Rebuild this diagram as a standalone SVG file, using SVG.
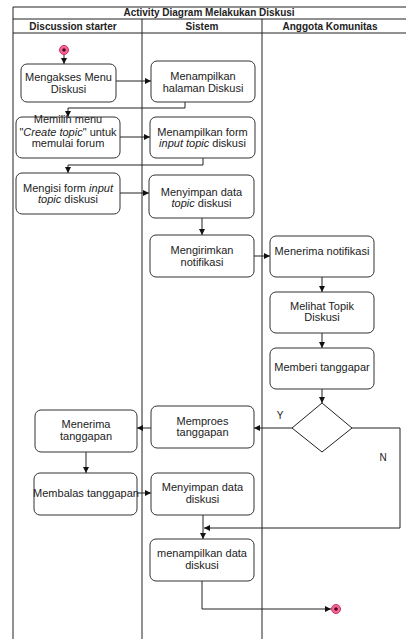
<svg xmlns="http://www.w3.org/2000/svg" width="406" height="639" viewBox="0 0 406 639">
<defs>
<marker id="ah" viewBox="0 0 10 10" refX="10" refY="5" markerWidth="6" markerHeight="6" orient="auto" markerUnits="userSpaceOnUse">
<path d="M0,0 L10,5 L0,10 z" fill="#111"/>
</marker>
</defs>
<style>
.frame{stroke:#222;stroke-width:1;fill:none}
.box{fill:#fff;stroke:#333;stroke-width:1}
.t{font-family:"Liberation Sans",Arial,sans-serif;font-size:11px;fill:#222;text-anchor:middle}
.h{font-family:"Liberation Sans",Arial,sans-serif;font-size:10px;font-weight:bold;fill:#222;text-anchor:middle}
.c{stroke:#222;stroke-width:1;fill:none;marker-end:url(#ah)}
</style>
<rect width="406" height="639" fill="#fff"/>
<g id="frame">
<path class="frame" d="M13,7 H406 M13,19 H406 M13,33 H406 M13,7 V639 M142,19 V639 M262,19 V639"/>
<text class="h" x="209" y="15.5">Activity Diagram Melakukan Diskusi</text>
<text class="h" x="73" y="29.5">Discussion starter</text>
<text class="h" x="202" y="29.5">Sistem</text>
<text class="h" x="330" y="29.5">Anggota Komunitas</text>
</g>
<g id="connectors">
<path class="c" d="M64,54 V64"/>
<path class="c" d="M116,81 H151"/>
<path class="c" d="M185,102 V108 H68 V117"/>
<path class="c" d="M120,137 H150"/>
<path class="c" d="M203,158 V165 H68 V173"/>
<path class="c" d="M120,193 H149"/>
<path class="c" d="M202,218 V235"/>
<path class="c" d="M254,256 H270"/>
<path class="c" d="M322,277 V292"/>
<path class="c" d="M322,333 V348"/>
<path class="c" d="M322,389 V403"/>
<path class="c" d="M292,428 H254"/>
<path class="c" d="M151,428 H137"/>
<path class="c" d="M352,428 H400 V528 H204"/>
<path class="c" d="M86,452 V473"/>
<path class="c" d="M137,493 H151"/>
<path class="c" d="M203,515 V539"/>
<path class="c" d="M202,581 V609 H331"/>
<text class="t" x="280" y="419" style="font-size:10px">Y</text>
<text class="t" x="383" y="461" style="font-size:10px">N</text>
</g>
<g id="start">
<circle cx="64" cy="50" r="4.5" fill="#f06a96" stroke="#d03060" stroke-width="1"/>
<circle cx="64" cy="50" r="1.8" fill="#600020"/>
</g>
<g id="n1">
<rect class="box" x="21" y="64" width="95" height="38" rx="6"/>
<text class="t" x="68.5" y="81">Mengakses Menu</text>
<text class="t" x="68.5" y="93">Diskusi</text>
</g>
<g id="n2">
<rect class="box" x="151" y="61" width="104" height="41" rx="6"/>
<text class="t" x="203" y="80">Menampilkan</text>
<text class="t" x="203" y="91.5">halaman Diskusi</text>
</g>
<g id="n3">
<rect class="box" x="16" y="117" width="104" height="41" rx="6"/>
<text class="t" x="68" y="123">Memilih menu</text>
<text class="t" x="68" y="135.5">"<tspan font-style="italic">Create topic</tspan>" untuk</text>
<text class="t" x="68" y="147">memulai forum</text>
</g>
<g id="n4">
<rect class="box" x="150" y="117" width="105" height="41" rx="6"/>
<text class="t" x="202.5" y="135.5">Menampilkan form</text>
<text class="t" x="202.5" y="147">
<tspan font-style="italic">input topic</tspan> diskusi</text>
</g>
<g id="n5">
<rect class="box" x="16" y="173" width="104" height="41" rx="6"/>
<text class="t" x="68" y="191.5">Mengisi form <tspan font-style="italic">input</tspan></text>
<text class="t" x="68" y="203"><tspan font-style="italic">topic</tspan> diskusi</text>
</g>
<g id="n6">
<rect class="box" x="149" y="175" width="105" height="43" rx="6"/>
<text class="t" x="201.5" y="195.5">Menyimpan data</text>
<text class="t" x="201.5" y="207"><tspan font-style="italic">topic</tspan> diskusi</text>
</g>
<g id="n7">
<rect class="box" x="150" y="235" width="104" height="42" rx="6"/>
<text class="t" x="202" y="254">Mengirimkan</text>
<text class="t" x="202" y="265.5">notifikasi</text>
</g>
<g id="n8">
<rect class="box" x="270" y="236" width="104" height="41" rx="6"/>
<text class="t" x="322" y="254.5">Menerima notifikasi</text>
</g>
<g id="n9">
<rect class="box" x="270" y="292" width="104" height="41" rx="6"/>
<text class="t" x="322" y="309.5">Melihat Topik</text>
<text class="t" x="322" y="321">Diskusi</text>
</g>
<g id="n10">
<rect class="box" x="270" y="348" width="104" height="41" rx="6"/>
<text class="t" x="322" y="370.5">Memberi tanggapar</text>
</g>
<g id="decision">
<path d="M322,403 L352,428 L322,452 L292,428 Z" fill="#fff" stroke="#222" stroke-width="1"/>
</g>
<g id="n11">
<rect class="box" x="151" y="406" width="103" height="42" rx="6"/>
<text class="t" x="202.5" y="424.5">Memproes</text>
<text class="t" x="202.5" y="436">tanggapan</text>
</g>
<g id="n12">
<rect class="box" x="35" y="410" width="102" height="42" rx="6"/>
<text class="t" x="86" y="428">Menerima</text>
<text class="t" x="86" y="439.5">tanggapan</text>
</g>
<g id="n13">
<rect class="box" x="34" y="473" width="103" height="42" rx="6"/>
<text class="t" x="86" y="496.5">Membalas tanggapan</text>
</g>
<g id="n14">
<rect class="box" x="151" y="473" width="103" height="42" rx="6"/>
<text class="t" x="202.5" y="491">Menyimpan data</text>
<text class="t" x="202.5" y="502.5">diskusi</text>
</g>
<g id="n15">
<rect class="box" x="150" y="539" width="104" height="42" rx="6"/>
<text class="t" x="202" y="557">menampilkan data</text>
<text class="t" x="202" y="568.5">diskusi</text>
</g>
<g id="end">
<circle cx="336" cy="609" r="4.5" fill="#f06a96" stroke="#d03060" stroke-width="1"/>
<circle cx="336" cy="609" r="1.8" fill="#600020"/>
</g>
</svg>
